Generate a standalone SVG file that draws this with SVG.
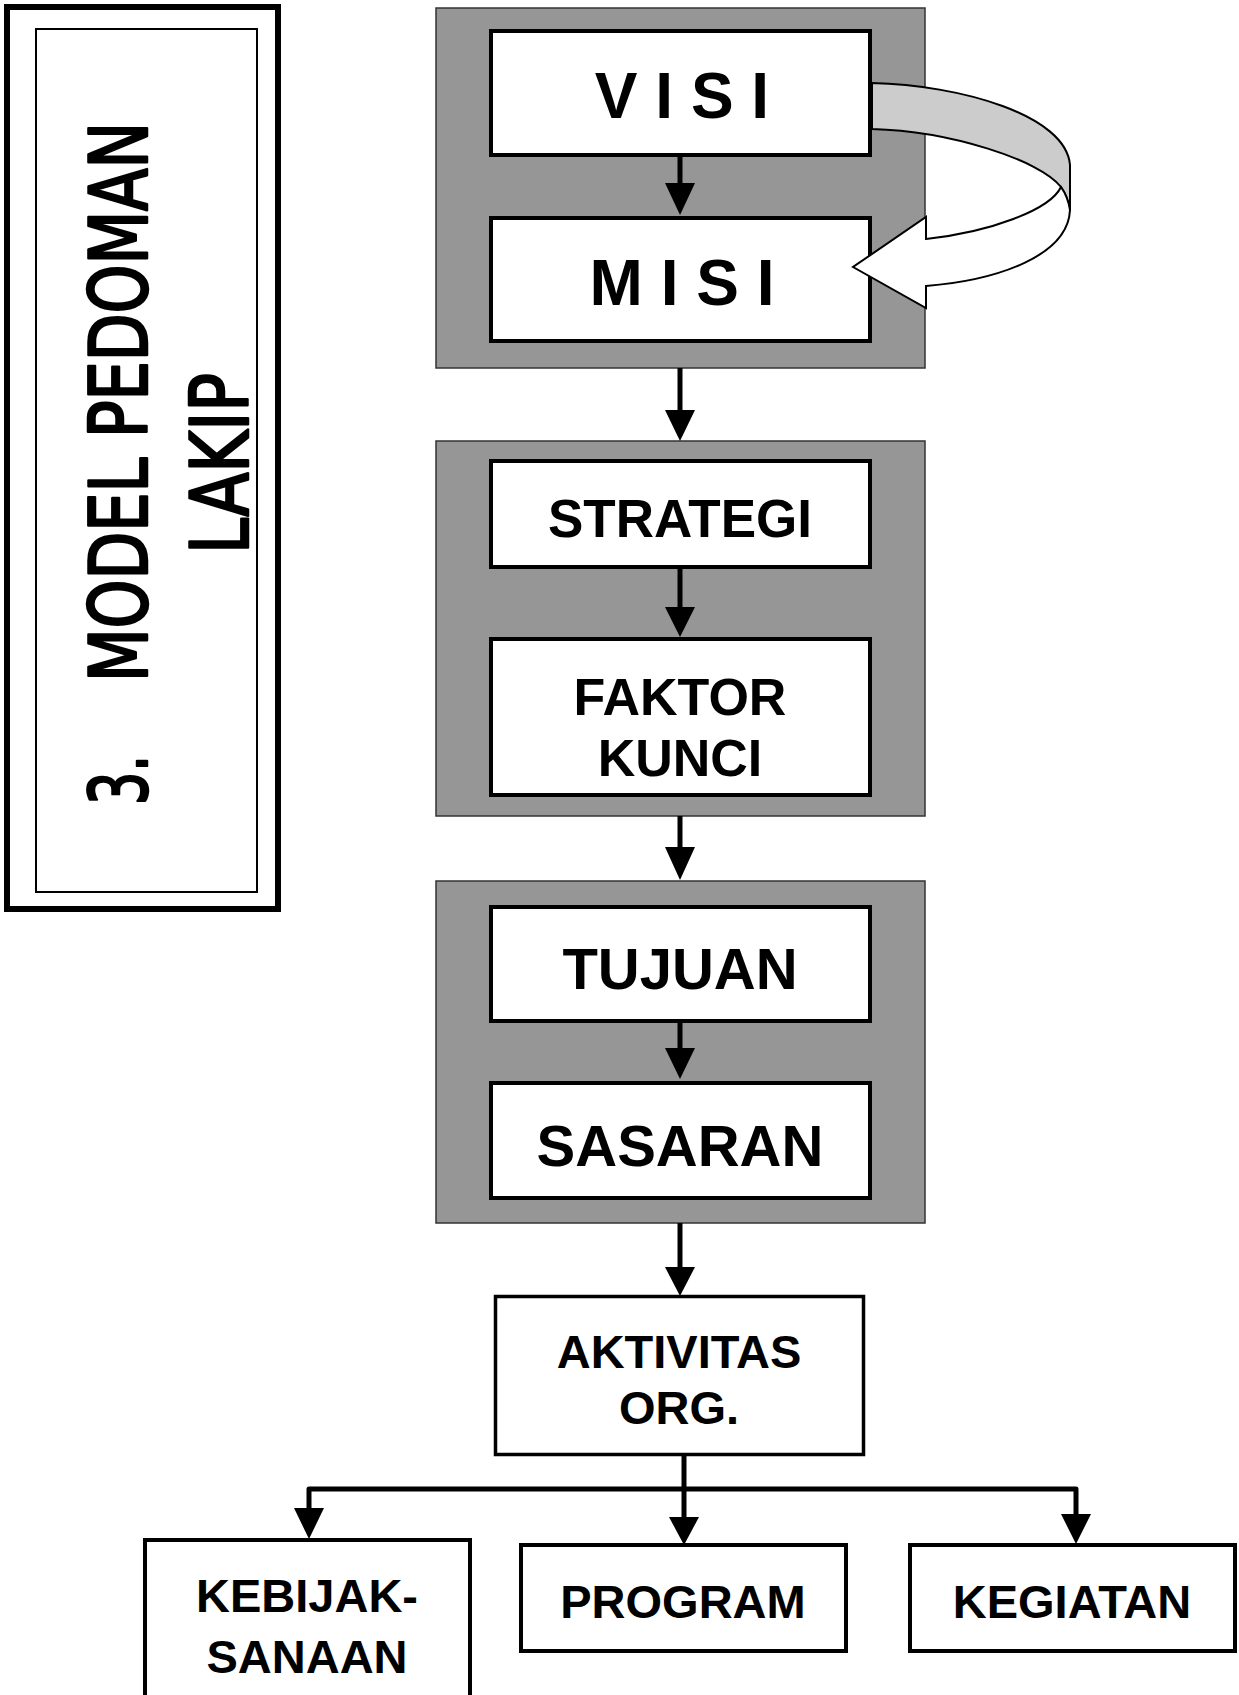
<svg xmlns="http://www.w3.org/2000/svg" width="1239" height="1695" viewBox="0 0 1239 1695">
<style>
.bg{fill:#fff}
.panel{fill:#969696;stroke:#333;stroke-width:1.5}
.box{fill:#fff;stroke:#000;stroke-width:4}
.box3{fill:#fff;stroke:#000;stroke-width:3.5}
.lbl{font-family:"Liberation Sans",Arial,sans-serif;font-weight:bold;fill:#000;text-anchor:middle}
.hand{font-family:"DejaVu Sans Condensed","DejaVu Sans",sans-serif;font-weight:normal;fill:#000;stroke:#000;stroke-width:2.5;stroke-linejoin:round}
.shaft{fill:none;stroke:#000;stroke-width:5}
.head{fill:#000}
</style>
<rect class="bg" x="0" y="0" width="1239" height="1695"/>
<g id="title">
<rect x="7" y="7" width="271" height="902" fill="none" stroke="#000" stroke-width="6"/>
<rect x="36" y="29" width="221" height="863" fill="none" stroke="#000" stroke-width="2"/>
<text class="hand" transform="rotate(-90)" x="-805" y="147" font-size="80" textLength="50" lengthAdjust="spacingAndGlyphs">3.</text>
<text class="hand" transform="rotate(-90)" x="-682" y="147" font-size="80" textLength="560" lengthAdjust="spacingAndGlyphs">MODEL PEDOMAN</text>
<text class="hand" transform="rotate(-90)" x="-554" y="248" font-size="80" textLength="181" lengthAdjust="spacingAndGlyphs">LAKIP</text>
</g>
<g id="group1"><rect class="panel" x="436" y="8" width="489" height="360"/></g>
<g id="group2"><rect class="panel" x="436" y="441" width="489" height="375"/></g>
<g id="group3"><rect class="panel" x="436" y="881" width="489" height="342"/></g>
<g id="visi"><rect class="box" x="491" y="31" width="379" height="124"/><text class="lbl" x="682" y="118" font-size="64">V I S I</text></g>
<g id="misi"><rect class="box" x="491" y="218" width="379" height="123"/><text class="lbl" x="682" y="305" font-size="64">M I S I</text></g>
<g id="strategi"><rect class="box" x="491" y="461" width="379" height="106"/><text class="lbl" x="680" y="537" font-size="53">STRATEGI</text></g>
<g id="faktor"><rect class="box" x="491" y="639" width="379" height="156"/><text class="lbl" x="680" y="715" font-size="52">FAKTOR</text><text class="lbl" x="680" y="776" font-size="52">KUNCI</text></g>
<g id="tujuan"><rect class="box" x="491" y="907" width="379" height="114"/><text class="lbl" x="680" y="989" font-size="58">TUJUAN</text></g>
<g id="sasaran"><rect class="box" x="491" y="1083" width="379" height="115"/><text class="lbl" x="680" y="1166" font-size="58">SASARAN</text></g>
<g id="aktivitas"><rect class="box3" x="495.5" y="1296.5" width="368" height="158"/><text class="lbl" x="679" y="1368" font-size="47">AKTIVITAS</text><text class="lbl" x="679" y="1424" font-size="47">ORG.</text></g>
<g id="kebijaksanaan"><rect class="box" x="145" y="1540" width="325" height="200"/><text class="lbl" x="307" y="1612" font-size="47">KEBIJAK-</text><text class="lbl" x="307" y="1673" font-size="47">SANAAN</text></g>
<g id="program"><rect class="box" x="521" y="1545" width="325" height="106"/><text class="lbl" x="683" y="1618" font-size="47">PROGRAM</text></g>
<g id="kegiatan"><rect class="box" x="910" y="1545" width="325" height="106"/><text class="lbl" x="1072" y="1618" font-size="47">KEGIATAN</text></g>
<g id="connectors">
<path d="M872,83 C960,85 1066,115 1070,165 L1070,210 Q1068,197 1061,187 C1040,160 950,131 872,129 Z" fill="#cccccc" stroke="#000" stroke-width="2" stroke-linejoin="round"/>
<path d="M1061,187 Q1068,197 1070,210 C1068,255 1000,280 926,286 L926,308 L853,267 L926,217 L926,239 C990,232 1050,210 1061,187 Z" fill="#fff" stroke="#000" stroke-width="2" stroke-linejoin="miter"/>
<path class="shaft" d="M680,155 V186"/><polygon class="head" points="665,183 695,183 680,215"/>
<path class="shaft" d="M680,368 V412"/><polygon class="head" points="665,410 695,410 680,441"/>
<path class="shaft" d="M680,567 V609"/><polygon class="head" points="665,607 695,607 680,637"/>
<path class="shaft" d="M680,816 V849"/><polygon class="head" points="665,847 695,847 680,880"/>
<path class="shaft" d="M680,1021 V1050"/><polygon class="head" points="665,1048 695,1048 680,1079"/>
<path class="shaft" d="M680,1223 V1269"/><polygon class="head" points="665,1267 695,1267 680,1296"/>
<path class="shaft" d="M684,1455 V1519"/><polygon class="head" points="669,1517 699,1517 684,1545"/>
<path class="shaft" d="M309,1511 V1489 H1076 V1516" stroke-linejoin="round"/>
<polygon class="head" points="294,1508 324,1508 309,1539"/>
<polygon class="head" points="1061,1514 1091,1514 1076,1544"/>
</g>
</svg>
